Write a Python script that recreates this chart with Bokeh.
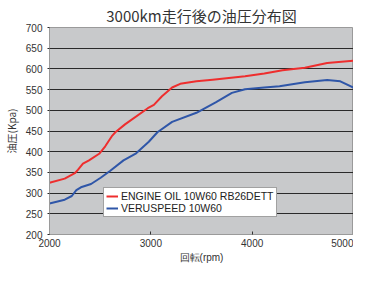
from bokeh.plotting import figure
from bokeh.models import Legend, LegendItem, Range1d, FixedTicker
from bokeh.embed import file_html
from bokeh.resources import INLINE

rpm_red = [2000, 2150, 2250, 2280, 2330, 2390, 2490, 2550, 2620, 2650, 2745, 2970, 3030, 3110, 3210,
           3290, 3450, 3610, 3770, 3930, 4120, 4300, 4520, 4740, 5000]
oil_red = [325, 335, 348, 356, 371, 379, 395, 413, 439, 447, 466, 505, 513, 534, 555,
           564, 570, 574, 578, 582, 589, 597, 603, 614, 620]

rpm_blue = [2000, 2150, 2220, 2265, 2310, 2410, 2505, 2600, 2730, 2855, 2980, 3065, 3210,
            3450, 3640, 3800, 3930, 4120, 4270, 4520, 4740, 4870, 5000]
oil_blue = [275, 284, 293, 307, 314, 322, 337, 354, 379, 396, 424, 447, 472,
            494, 519, 542, 551, 555, 558, 568, 573, 570, 555]

x_ticks = [2000, 3000, 4000, 5000]
y_ticks = [200, 250, 300, 350, 400, 450, 500, 550, 600, 650, 700]

title_text = "3000km走行後の油圧分布図"
x_label = "回転(rpm)"
y_label = "油圧(Kpa)"
series_names = ["ENGINE OIL 10W60 RB26DETT", "VERUSPEED 10W60"]

p = figure(width=353, height=265, output_backend="svg", toolbar_location=None,
           x_range=Range1d(2000, 5000), y_range=Range1d(200, 700),
           min_border_left=41, min_border_right=0, min_border_top=19, min_border_bottom=27)

p.title.text = title_text
p.title.align = "center"
p.title.text_font = "Noto Sans CJK JP"
p.title.text_font_size = "15px"
p.title.text_font_style = "normal"
p.title.text_color = "#333333"
p.title.standoff = 4

p.background_fill_color = "#c8c9cb"
p.border_fill_color = "white"
p.outline_line_color = "#9a9a9a"

p.xgrid.grid_line_color = None
p.ygrid.grid_line_color = "#2a2a2a"
p.ygrid.grid_line_width = 1

p.xaxis.ticker = FixedTicker(ticks=x_ticks)
p.yaxis.ticker = FixedTicker(ticks=y_ticks)
for ax in (p.xaxis, p.yaxis):
    ax.major_label_text_font = "Liberation Sans"
    ax.major_label_text_font_size = "10px"
    ax.major_label_text_color = "#333333"
    ax.minor_tick_line_color = None
    ax.axis_label_text_font_size = "10px"
    ax.axis_label_text_font_style = "normal"
    ax.axis_label_text_color = "#333333"

p.xaxis.axis_label_text_font = "Liberation Sans"
p.yaxis.axis_label_text_font = "Noto Sans CJK JP"

p.xaxis.axis_line_color = "#9a9a9a"
p.xaxis.major_tick_line_color = "#333333"
p.xaxis.major_tick_in = 3
p.xaxis.major_tick_out = 0
p.xaxis.major_label_standoff = 4
p.xaxis.axis_label = x_label
p.xaxis.axis_label_standoff = 2

p.yaxis.axis_line_color = "#9a9a9a"
p.yaxis.major_tick_line_color = "#2a2a2a"
p.yaxis.major_tick_in = 0
p.yaxis.major_tick_out = 2
p.yaxis.major_label_standoff = 5
p.yaxis.axis_label = y_label
p.yaxis.axis_label_standoff = 4

r1 = p.line(rpm_red, oil_red, line_color="#ee2e2e", line_width=2)
r2 = p.line(rpm_blue, oil_blue, line_color="#2f56a8", line_width=2)

legend = Legend(items=[LegendItem(label=series_names[0], renderers=[r1]),
                       LegendItem(label=series_names[1], renderers=[r2])],
                location=(54, 17))
legend.label_text_font = "Liberation Sans"
legend.label_text_font_size = "10.5px"
legend.label_text_color = "#222222"
legend.label_height = 12
legend.glyph_height = 12
legend.glyph_width = 12
legend.label_standoff = 3
legend.spacing = 0
legend.padding = 2
legend.margin = 0
legend.border_line_color = "#444444"
legend.background_fill_color = "white"
legend.background_fill_alpha = 1
p.add_layout(legend, "center")

open("out.html", "w").write(file_html(p, INLINE))
